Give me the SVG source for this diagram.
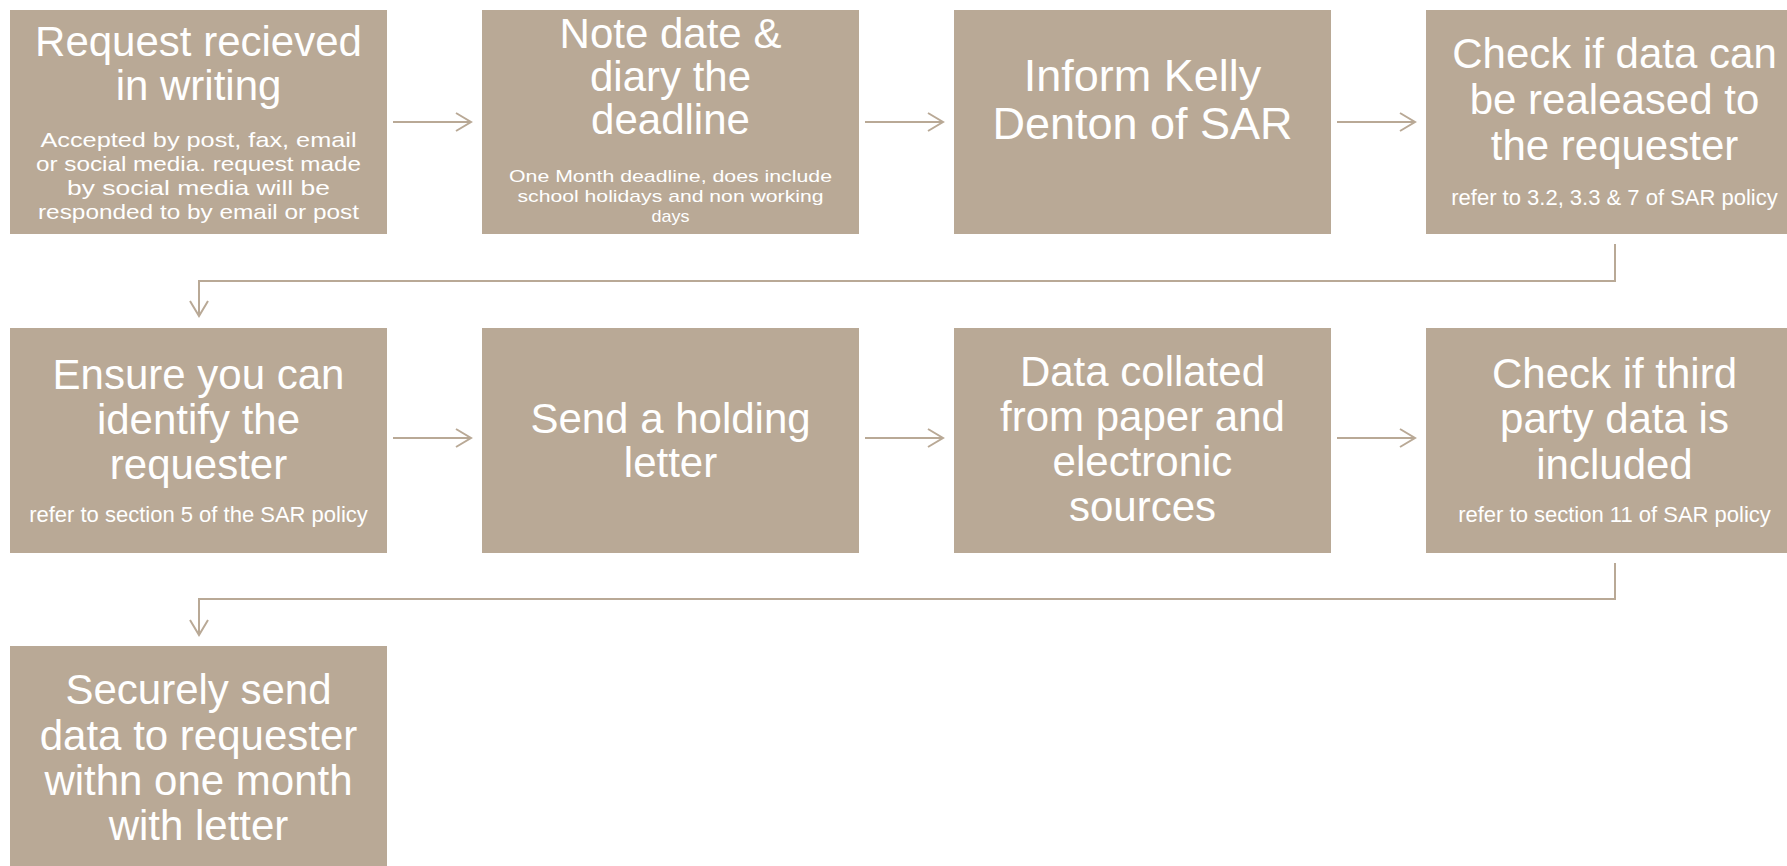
<svg xmlns="http://www.w3.org/2000/svg" width="1787" height="866" viewBox="0 0 1787 866">
<style>
.box{fill:#B9A996}
.t{fill:#FFFFFF;font-family:"Liberation Sans",Arial,sans-serif;text-anchor:middle}
.h{font-size:42px}
.h2{font-size:45px}
.s{font-size:21px}
.s3{font-size:17px}
.s2{font-size:22px}
.c{fill:none;stroke:#B9A996;stroke-width:2}
</style>
<defs>
<marker id="ah" markerUnits="userSpaceOnUse" markerWidth="20" markerHeight="24" refX="16" refY="10" orient="auto" viewBox="0 0 20 24">
<path d="M1,1 L16,10 L1,19" fill="none" stroke="#B9A996" stroke-width="2"/>
</marker>
</defs>
<rect width="1787" height="866" fill="#FFFFFF"/>
<g id="connectors">
<line class="c" x1="393" y1="122" x2="471" y2="122" marker-end="url(#ah)"/>
<line class="c" x1="865" y1="122" x2="943" y2="122" marker-end="url(#ah)"/>
<line class="c" x1="1337" y1="122" x2="1415" y2="122" marker-end="url(#ah)"/>
<polyline class="c" points="1615,244 1615,281 199,281 199,316" marker-end="url(#ah)"/>
<line class="c" x1="393" y1="438" x2="471" y2="438" marker-end="url(#ah)"/>
<line class="c" x1="865" y1="438" x2="943" y2="438" marker-end="url(#ah)"/>
<line class="c" x1="1337" y1="438" x2="1415" y2="438" marker-end="url(#ah)"/>
<polyline class="c" points="1615,563 1615,599 199,599 199,635" marker-end="url(#ah)"/>
</g>
<g id="n1">
<rect class="box" x="10" y="10" width="377" height="224"/>
<text class="t h" x="198.5" y="56">Request recieved</text>
<text class="t h" x="198.5" y="100">in writing</text>
<text class="t s" x="198.5" y="147" textLength="316" lengthAdjust="spacingAndGlyphs">Accepted by post, fax, email</text>
<text class="t s" x="198.5" y="171" textLength="325" lengthAdjust="spacingAndGlyphs">or social media. request made</text>
<text class="t s" x="198.5" y="195" textLength="263" lengthAdjust="spacingAndGlyphs">by social media will be</text>
<text class="t s" x="198.5" y="219" textLength="321" lengthAdjust="spacingAndGlyphs">responded to by email or post</text>
</g>
<g id="n2">
<rect class="box" x="482" y="10" width="377" height="224"/>
<text class="t h" x="670.5" y="48">Note date &amp;</text>
<text class="t h" x="670.5" y="91">diary the</text>
<text class="t h" x="670.5" y="134">deadline</text>
<text class="t s3" x="670.5" y="182" textLength="323" lengthAdjust="spacingAndGlyphs">One Month deadline, does include</text>
<text class="t s3" x="670.5" y="202" textLength="306" lengthAdjust="spacingAndGlyphs">school holidays and non working</text>
<text class="t s3" x="670.5" y="222" textLength="38" lengthAdjust="spacingAndGlyphs">days</text>
</g>
<g id="n3">
<rect class="box" x="954" y="10" width="377" height="224"/>
<text class="t h2" x="1142.5" y="91">Inform Kelly</text>
<text class="t h2" x="1142.5" y="139">Denton of SAR</text>
</g>
<g id="n4">
<rect class="box" x="1426" y="10" width="377" height="224"/>
<text class="t h" x="1614.5" y="68">Check if data can</text>
<text class="t h" x="1614.5" y="114">be realeased to</text>
<text class="t h" x="1614.5" y="160">the requester</text>
<text class="t s2" x="1614.5" y="205">refer to 3.2, 3.3 &amp; 7 of SAR policy</text>
</g>
<g id="n5">
<rect class="box" x="10" y="328" width="377" height="225"/>
<text class="t h" x="198.5" y="389">Ensure you can</text>
<text class="t h" x="198.5" y="434">identify the</text>
<text class="t h" x="198.5" y="479">requester</text>
<text class="t s2" x="198.5" y="522">refer to section 5 of the SAR policy</text>
</g>
<g id="n6">
<rect class="box" x="482" y="328" width="377" height="225"/>
<text class="t h" x="670.5" y="433">Send a holding</text>
<text class="t h" x="670.5" y="477">letter</text>
</g>
<g id="n7">
<rect class="box" x="954" y="328" width="377" height="225"/>
<text class="t h" x="1142.5" y="386">Data collated</text>
<text class="t h" x="1142.5" y="431">from paper and</text>
<text class="t h" x="1142.5" y="476">electronic</text>
<text class="t h" x="1142.5" y="521">sources</text>
</g>
<g id="n8">
<rect class="box" x="1426" y="328" width="377" height="225"/>
<text class="t h" x="1614.5" y="388">Check if third</text>
<text class="t h" x="1614.5" y="433">party data is</text>
<text class="t h" x="1614.5" y="479">included</text>
<text class="t s2" x="1614.5" y="522">refer to section 11 of SAR policy</text>
</g>
<g id="n9">
<rect class="box" x="10" y="646" width="377" height="230"/>
<text class="t h" x="198.5" y="704">Securely send</text>
<text class="t h" x="198.5" y="750">data to requester</text>
<text class="t h" x="198.5" y="795">withn one month</text>
<text class="t h" x="198.5" y="840">with letter</text>
</g>
</svg>
